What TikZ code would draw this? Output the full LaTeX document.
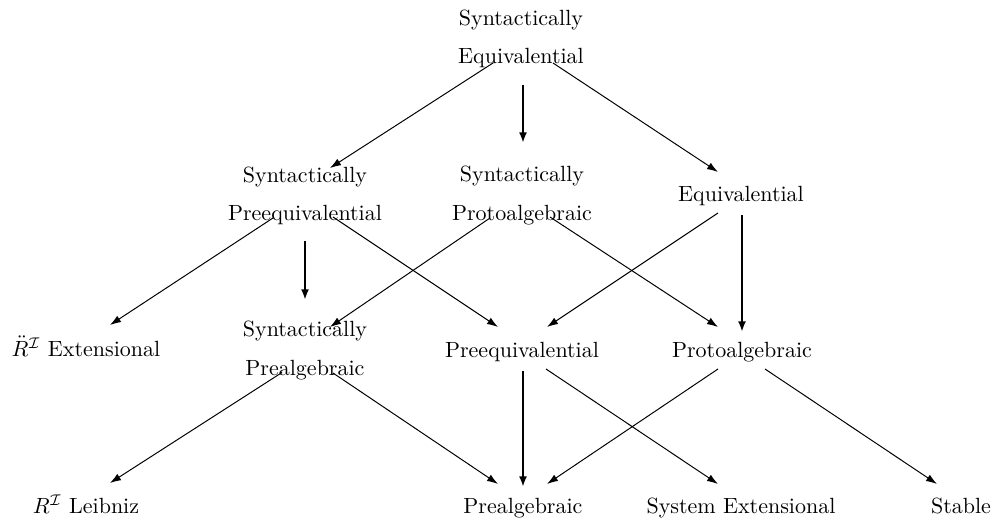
\documentclass[tikz,border=0pt]{standalone}
\usetikzlibrary{arrows.meta}
\begin{document}
\begin{tikzpicture}[x=0.4545pt,y=-0.4545pt,
  lbl/.style={inner sep=0pt,outer sep=0pt},
  two/.style={inner sep=0pt,outer sep=0pt,align=center},
  thin/.style={line width=0.45pt,-{Latex[length=5pt,width=3.4pt]}},
  thick/.style={line width=1.3pt,-{Latex[length=4.8pt,width=3.6pt]}}]
\useasboundingbox (0,0) rectangle (992,518);
% nodes
\node[two] (SE) at (521,38.5) {Syntactically\\[5.3pt]Equivalential};
\node[two] (SPE) at (305,195.5) {Syntactically\\[5.3pt]Preequivalential};
\node[two] (SPA) at (522,195.5) {Syntactically\\[5.3pt]Protoalgebraic};
\node[lbl,anchor=base] (EQ) at (741,202) {Equivalential};
\node[lbl,anchor=base] (RE) at (86,356) {$\ddot{R}^{\mathcal{I}}$ Extensional};
\node[two] (SPR) at (305,350.5) {Syntactically\\[5.3pt]Prealgebraic};
\node[lbl,anchor=base] (PE) at (522,357) {Preequivalential};
\node[lbl,anchor=base] (PA) at (742,357) {Protoalgebraic};
\node[lbl,anchor=base] (RL) at (86,513) {$R^{\mathcal{I}}$ Leibniz};
\node[lbl,anchor=base] (PR) at (523,513) {Prealgebraic};
\node[lbl,anchor=base] (SY) at (741,513) {System Extensional};
\node[lbl,anchor=base] (ST) at (961,513) {Stable};
% connectors
\draw[thin] ([shift={(-28,24.5)}]SE.center) -- ([shift={(25,-27.5)}]SPE.center);
\draw[thin] ([shift={(32,24.5)}]SE.center) -- ([shift={(-23,-30)}]EQ.base);
\draw[thick] ([shift={(2,46.5)}]SE.center) -- ([shift={(1,-52.5)}]SPA.center);
\draw[thin] ([shift={(-32,22.5)}]SPE.center) -- ([shift={(24,-31)}]RE.base);
\draw[thick] ([shift={(0,45.5)}]SPE.center) -- ([shift={(0,-50.5)}]SPR.center);
\draw[thin] ([shift={(28,21.5)}]SPE.center) -- ([shift={(-24,-30)}]PE.base);
\draw[thin] ([shift={(-32,22.5)}]SPA.center) -- ([shift={(25,-23.5)}]SPR.center);
\draw[thin] ([shift={(28,21.5)}]SPA.center) -- ([shift={(-24,-30)}]PA.base);
\draw[thin] ([shift={(-23,11)}]EQ.base) -- ([shift={(25,-30)}]PE.base);
\draw[thick] ([shift={(1,13)}]EQ.base) -- ([shift={(0,-25)}]PA.base);
\draw[thin] ([shift={(-23,22)}]SPR.center) -- ([shift={(24,-30)}]RL.base);
\draw[thin] ([shift={(28,22.5)}]SPR.center) -- ([shift={(-25,-29)}]PR.base);
\draw[thick] ([shift={(1,14)}]PE.base) -- ([shift={(0,-26)}]PR.base);
\draw[thin] ([shift={(24,12)}]PE.base) -- ([shift={(-23,-29)}]SY.base);
\draw[thin] ([shift={(-24,12)}]PA.base) -- ([shift={(24,-29)}]PR.base);
\draw[thin] ([shift={(23,12)}]PA.base) -- ([shift={(-24,-29)}]ST.base);
\end{tikzpicture}
\end{document}
